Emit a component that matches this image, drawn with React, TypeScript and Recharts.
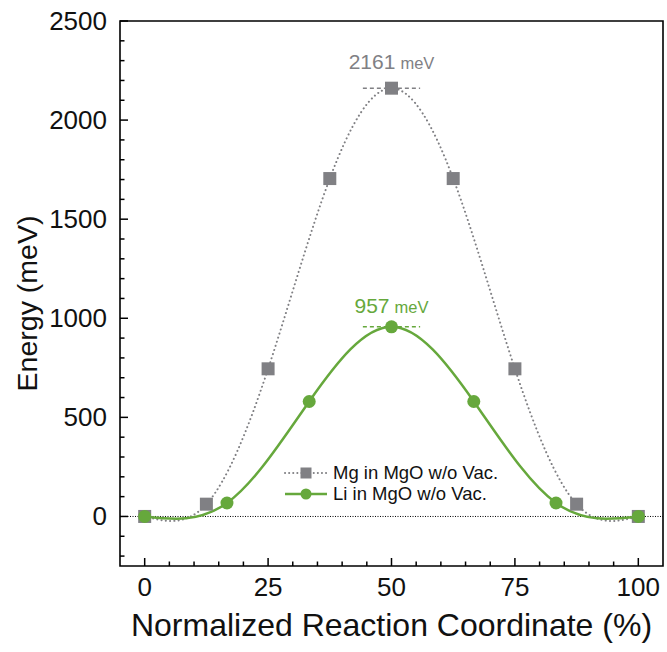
import { LineChart, Line, XAxis, YAxis, ReferenceLine, ReferenceArea, Legend, Label } from 'recharts';

const FONT = '"Liberation Sans", Arial, Helvetica, sans-serif';
const GRAY = '#808084';
const GREEN = '#66a83c';

// NEB images, reaction coordinate (%) and energy (meV)
const mgCoord = [0, 12.5, 25, 37.5, 50, 62.5, 75, 87.5, 100];
const mgEnergy = [0, 62, 745, 1705, 2161, 1705, 745, 62, 0];
const liCoord = [0, 16.67, 33.33, 50, 66.67, 83.33, 100];
const liEnergy = [0, 68, 580, 957, 580, 68, 0];

const seriesNames = ['Mg in MgO w/o Vac.', 'Li in MgO w/o Vac.'];
const barriers = [2161, 957];

const xTicks = [0, 5, 10, 15, 20, 25, 30, 35, 40, 45, 50, 55, 60, 65, 70, 75, 80, 85, 90, 95, 100];
const xLabels = [0, 25, 50, 75, 100];
const yTicks = [
  -200, -100, 0, 100, 200, 300, 400, 500, 600, 700, 800, 900, 1000, 1100, 1200, 1300, 1400,
  1500, 1600, 1700, 1800, 1900, 2000, 2100, 2200, 2300, 2400, 2500,
];
const yLabels = [0, 500, 1000, 1500, 2000, 2500];

const mgData = mgCoord.map((x, i) => ({ x, e: mgEnergy[i] }));
const liData = liCoord.map((x, i) => ({ x, e: liEnergy[i] }));

function XTick({ x, y, payload }: any) {
  const major = xLabels.includes(payload.value);
  return (
    <g>
      <line x1={x} x2={x} y1={y} y2={y - (major ? 8 : 4.5)} stroke="#000" strokeWidth={1.5} />
      {major && (
        <text x={x} y={y + 21} textAnchor="middle" dominantBaseline="central" fontSize={26} fontFamily={FONT} fill="#111">
          {payload.value}
        </text>
      )}
    </g>
  );
}

function YTick({ x, y, payload }: any) {
  const major = yLabels.includes(payload.value);
  return (
    <g>
      <line x1={x} x2={x + (major ? 8 : 4.5)} y1={y} y2={y} stroke="#000" strokeWidth={1.5} />
      {major && (
        <text x={x - 13} y={y} textAnchor="end" dominantBaseline="central" fontSize={26} fontFamily={FONT} fill="#111">
          {payload.value}
        </text>
      )}
    </g>
  );
}

// barrier label sits on a shared baseline so "meV" lines up with the number
function PeakLabel({ viewBox, value, color, lift }: any) {
  const cx = viewBox.x + viewBox.width / 2;
  return (
    <text x={cx} y={viewBox.y - lift} textAnchor="middle" fill={color} fontFamily={FONT}>
      <tspan fontSize={21}>{value}</tspan>
      <tspan fontSize={16.5} dx={5}>meV</tspan>
    </text>
  );
}

function Square(props: any) {
  const { cx, cy, index } = props;
  if (cx == null || cy == null) return <g key={`sq-${index}`} />;
  return <rect key={`sq-${index}`} x={cx - 6.5} y={cy - 6.5} width={13} height={13} fill={GRAY} />;
}

function LegendBox() {
  return (
    <div style={{ fontFamily: FONT, fontSize: 18.5, color: '#111' }}>
      {seriesNames.map((name, i) => (
        <div key={name} style={{ display: 'flex', alignItems: 'center', height: 21.5 }}>
          <svg width={50} height={20} style={{ display: 'block' }}>
            {i === 0 ? (
              <>
                <line x1={2} x2={44} y1={10} y2={10} stroke={GRAY} strokeWidth={2} strokeDasharray="0.1 4" strokeLinecap="round" />
                <rect x={17.5} y={4.5} width={11} height={11} fill={GRAY} />
              </>
            ) : (
              <>
                <line x1={2} x2={44} y1={10} y2={10} stroke={GREEN} strokeWidth={2.5} />
                <circle cx={23} cy={10} r={5.5} fill={GREEN} />
              </>
            )}
          </svg>
          <span>{name}</span>
        </div>
      ))}
    </div>
  );
}

export default function App() {
  return (
    <div style={{ position: 'absolute', left: 0, top: 0, width: 667, height: 652, background: '#fff', fontFamily: FONT }}>
      <LineChart width={667} height={652} margin={{ top: 21, right: 4, bottom: 0, left: 0 }}>
        <XAxis
          type="number"
          dataKey="x"
          domain={[-5, 105]}
          ticks={xTicks}
          interval={0}
          axisLine={false}
          tickLine={false}
          tickSize={0}
          tickMargin={0}
          tick={<XTick />}
          height={86}
          allowDataOverflow
        >
          <Label
            content={({ viewBox }: any) => (
              <text x={viewBox.x + viewBox.width / 2} y={viewBox.y + 59} textAnchor="middle" dominantBaseline="central" fontSize={32} fontFamily={FONT} fill="#111">
                Normalized Reaction Coordinate (%)
              </text>
            )}
          />
        </XAxis>
        <YAxis
          type="number"
          dataKey="e"
          domain={[-250, 2500]}
          ticks={yTicks}
          interval={0}
          axisLine={false}
          tickLine={false}
          tickSize={0}
          tickMargin={0}
          tick={<YTick />}
          width={120}
          allowDataOverflow
        >
          <Label
            content={({ viewBox }: any) => {
              const cy = viewBox.y + viewBox.height / 2 + 10;
              return (
                <text x={27} y={cy} transform={`rotate(-90 27 ${cy})`} textAnchor="middle" dominantBaseline="central" fontSize={28.5} fontFamily={FONT} fill="#111">
                  Energy (meV)
                </text>
              );
            }}
          />
        </YAxis>
        <ReferenceArea x1={-5} x2={105} y1={-250} y2={2500} fill="none" stroke="#000" strokeWidth={1.6} ifOverflow="visible" />
        <ReferenceLine y={0} stroke="#000" strokeWidth={1} strokeDasharray="1 1.5" />
        <ReferenceLine
          segment={[{ x: 44.2, y: barriers[0] }, { x: 55.8, y: barriers[0] }]}
          stroke={GRAY}
          strokeWidth={1.5}
          strokeDasharray="4 3"
          label={<PeakLabel value={barriers[0]} color={GRAY} lift={19} />}
        />
        <ReferenceLine
          segment={[{ x: 44.2, y: barriers[1] }, { x: 55.8, y: barriers[1] }]}
          stroke={GREEN}
          strokeWidth={1.5}
          strokeDasharray="4 3"
          label={<PeakLabel value={barriers[1]} color={GREEN} lift={14} />}
        />
        <Line
          data={mgData}
          dataKey="e"
          type="natural"
          stroke={GRAY}
          strokeWidth={2}
          strokeDasharray="0.1 4.2"
          strokeLinecap="round"
          dot={(p: any) => <Square {...p} />}
          activeDot={false}
          isAnimationActive={false}
          name={seriesNames[0]}
        />
        <Line
          data={liData}
          dataKey="e"
          type="natural"
          stroke={GREEN}
          strokeWidth={2.5}
          dot={{ r: 6.5, fill: GREEN, stroke: GREEN, strokeWidth: 0 }}
          activeDot={false}
          isAnimationActive={false}
          name={seriesNames[1]}
        />
        <Legend
          layout="vertical"
          align="center"
          verticalAlign="middle"
          content={() => <LegendBox />}
          wrapperStyle={{ left: 283, top: 462, width: 240 }}
        />
      </LineChart>
    </div>
  );
}
